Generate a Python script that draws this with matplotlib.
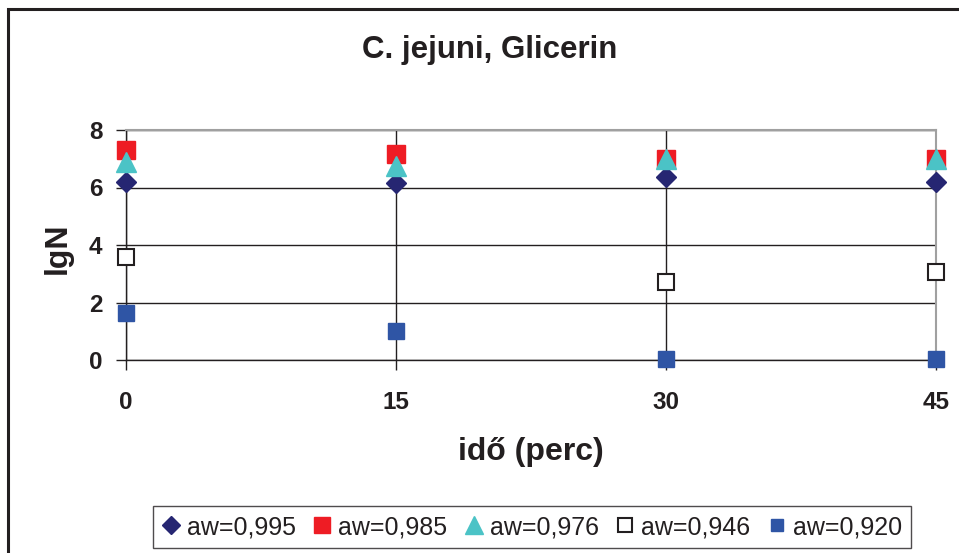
import numpy as np
import matplotlib
matplotlib.use('Agg')
import matplotlib.pyplot as plt
from matplotlib.patches import Rectangle

plt.rcParams['font.family'] = ['Liberation Sans', 'DejaVu Sans']

# data
ido = [0, 15, 30, 45]
aw_995 = [6.2, 6.15, 6.35, 6.2]
aw_985 = [7.3, 7.15, 7.0, 7.0]
aw_976 = [6.9, 6.75, 7.0, 7.0]
aw_946 = [3.6, np.nan, 2.7, 3.05]
aw_920 = [1.65, 1.0, 0.03, 0.03]
labels = ['aw=0,995', 'aw=0,985', 'aw=0,976', 'aw=0,946', 'aw=0,920']

fig = plt.figure(figsize=(9.59, 5.53), dpi=100)
ax = fig.add_axes([126/959, 1 - 360/553, (936 - 126)/959, (360 - 130)/553])

# outer chart border (right and bottom edges run off the picture)
fig.patches.append(Rectangle((8/959, -0.1), 1.2, 1.1 - 9/553, transform=fig.transFigure,
                             fill=False, edgecolor='#231f20', linewidth=2.2, zorder=0))

ax.plot(ido, aw_995, linestyle='none', marker='D', markersize=10.5, color='#262672',
        label=labels[0], zorder=3, clip_on=False)
ax.plot(ido, aw_985, linestyle='none', marker='s', markersize=13, color='#ee1c24',
        label=labels[1], zorder=4, clip_on=False)
ax.plot(ido, aw_976, linestyle='none', marker='^', markersize=15, color='#4bc3c6',
        label=labels[2], zorder=5, clip_on=False)
ax.plot(ido, aw_946, linestyle='none', marker='s', markersize=12, markerfacecolor='white',
        markeredgecolor='#231f20', markeredgewidth=1.5, label=labels[3], zorder=6, clip_on=False)
ax.plot(ido, aw_920, linestyle='none', marker='s', markersize=11, color='#2f55a5',
        label=labels[4], zorder=7, clip_on=False)

ax.set_xlim(0, 45)
ax.set_ylim(0, 8)
ax.set_xticks(ido)
ax.set_yticks([0, 2, 4, 6, 8])
ax.grid(True, color='#231f20', linewidth=1.0)
ax.set_axisbelow(True)
for s in ['top', 'right']:
    ax.spines[s].set_color('#a0a0a0')
    ax.spines[s].set_linewidth(1.5)
for s in ['left', 'bottom']:
    ax.spines[s].set_color('#231f20')
    ax.spines[s].set_linewidth(1.0)
ax.tick_params(axis='both', direction='out', length=7, width=1.0, color='#231f20',
               labelsize=17.5)
ax.tick_params(axis='x', pad=15)
ax.tick_params(axis='y', pad=10)
for t in ax.get_xticklabels() + ax.get_yticklabels():
    t.set_fontweight('bold')
    t.set_color('#231f20')

fig.text(490/959, 1 - 50/553, 'C. jejuni, Glicerin', ha='center', va='center',
         fontsize=22.5, fontweight='bold', color='#231f20')
fig.text(531/959, 1 - 452/553, 'idő (perc)', ha='center', va='center',
         fontsize=23, fontweight='bold', color='#231f20')
fig.text(58/959, 1 - 248/553, 'lgN', ha='center', va='center', rotation=90,
         fontsize=23, fontweight='bold', color='#231f20')

leg = fig.legend(loc='center', bbox_to_anchor=(532/959, 1 - 527/553), ncol=5,
                 fontsize=18, frameon=True, fancybox=False, handlelength=0.7,
                 handletextpad=0.3, columnspacing=0.7, borderpad=0.35, markerscale=0.85)
leg.get_frame().set_edgecolor('#231f20')
leg.get_frame().set_linewidth(1.0)
for t in leg.get_texts():
    t.set_color('#231f20')

fig.savefig('out.png', dpi=100)
